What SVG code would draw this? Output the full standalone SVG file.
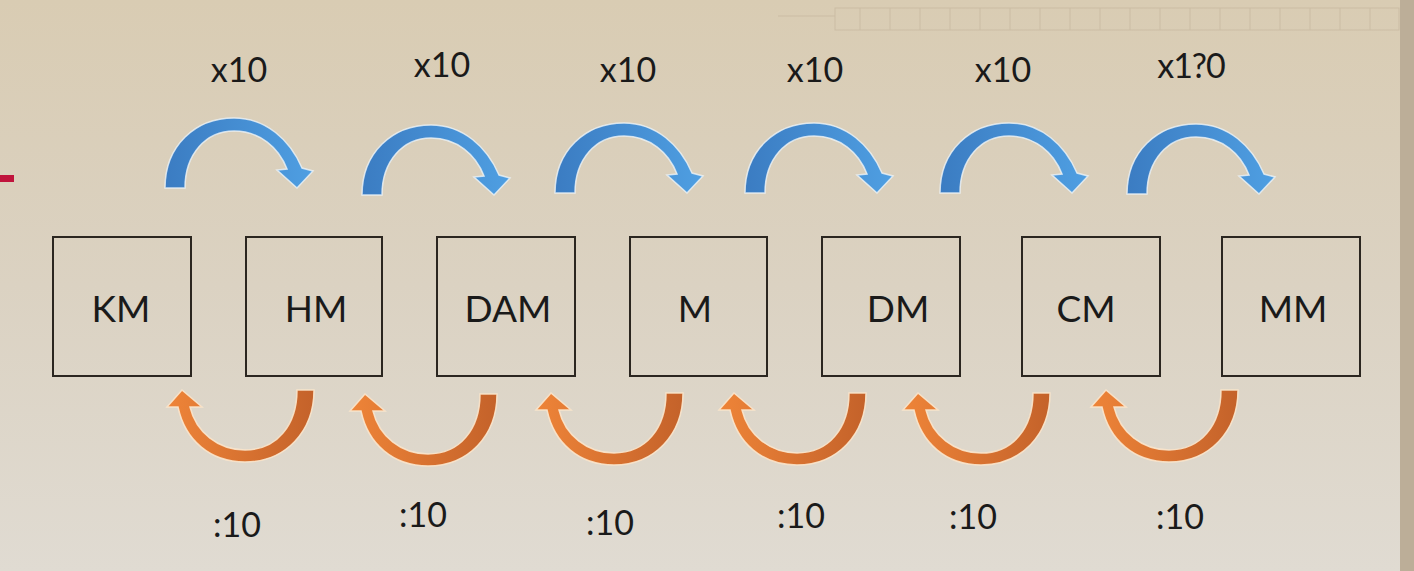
<svg xmlns="http://www.w3.org/2000/svg" width="1414" height="571" viewBox="0 0 1414 571">
  <style>
    .box { fill: none; stroke: #2b2620; stroke-width: 2; }
    .lbl { font-family: Lato, "Liberation Sans", sans-serif; font-size: 37px; fill: #1a1a1a; text-anchor: middle; }
    .op { font-family: Lato, "Liberation Sans", sans-serif; font-size: 34px; fill: #1a1a1a; text-anchor: middle; }
    .blue { fill: url(#gBlue); stroke: #eef4f8; stroke-width: 1.5; stroke-opacity: 0.8; }
    .orange { fill: url(#gOrange); stroke: #fbe6cc; stroke-width: 1.5; stroke-opacity: 0.9; }
  </style>
  <defs>
    <linearGradient id="gBg" x1="0" y1="0" x2="0" y2="1">
      <stop offset="0" stop-color="#d9ccb3"/>
      <stop offset="0.5" stop-color="#dbd2c2"/>
      <stop offset="1" stop-color="#e0dbd2"/>
    </linearGradient>
    <linearGradient id="gBlue" x1="0" y1="0" x2="1" y2="0">
      <stop offset="0" stop-color="#3b7cc2"/>
      <stop offset="1" stop-color="#4f9fe2"/>
    </linearGradient>
    <linearGradient id="gOrange" x1="0" y1="0" x2="1" y2="0">
      <stop offset="0" stop-color="#ee8438"/>
      <stop offset="1" stop-color="#c4622a"/>
    </linearGradient>
    <path id="arcUp" d="M165,188 C165,146 195,118 234,118 C266,118 290,140 302,168 L313,171 L297,188 L277,170 L287,169 C279,148 260,131 234,131 C206,131 185,154 185,188 Z"/>
    <path id="arcDown" d="M314,390 C314,432 285,462 245,462 C210,462 185,440 178,407 L167,407 L182,390 L202,407 L190,407 C196,432 218,450 245,450 C277,450 297,425 297,390 Z"/>
  </defs>

  <!-- background -->
  <rect x="0" y="0" width="1414" height="571" fill="url(#gBg)"/>
  <rect x="1400" y="0" width="14" height="571" fill="#bcae98"/>
  <g opacity="0.18" fill="none" stroke="#8f7d60" stroke-width="1">
    <line x1="778" y1="16" x2="835" y2="16"/>
    <rect x="835" y="8" width="564" height="22"/>
    <line x1="860" y1="8" x2="860" y2="30"/><line x1="890" y1="8" x2="890" y2="30"/>
    <line x1="920" y1="8" x2="920" y2="30"/><line x1="950" y1="8" x2="950" y2="30"/>
    <line x1="980" y1="8" x2="980" y2="30"/><line x1="1010" y1="8" x2="1010" y2="30"/>
    <line x1="1040" y1="8" x2="1040" y2="30"/><line x1="1070" y1="8" x2="1070" y2="30"/>
    <line x1="1100" y1="8" x2="1100" y2="30"/><line x1="1130" y1="8" x2="1130" y2="30"/>
    <line x1="1160" y1="8" x2="1160" y2="30"/><line x1="1190" y1="8" x2="1190" y2="30"/>
    <line x1="1220" y1="8" x2="1220" y2="30"/><line x1="1250" y1="8" x2="1250" y2="30"/>
    <line x1="1280" y1="8" x2="1280" y2="30"/><line x1="1310" y1="8" x2="1310" y2="30"/>
    <line x1="1340" y1="8" x2="1340" y2="30"/><line x1="1370" y1="8" x2="1370" y2="30"/>
  </g>
  <rect x="0" y="175" width="14" height="7" fill="#c0143c"/>

  <!-- connectors -->
  <g id="connectors">
    <use href="#arcUp" class="blue"/>
    <use href="#arcUp" class="blue" transform="translate(197,7)"/>
    <use href="#arcUp" class="blue" transform="translate(390,5)"/>
    <use href="#arcUp" class="blue" transform="translate(580,5)"/>
    <use href="#arcUp" class="blue" transform="translate(775,5)"/>
    <use href="#arcUp" class="blue" transform="translate(962,6)"/>
    <use href="#arcDown" class="orange"/>
    <use href="#arcDown" class="orange" transform="translate(183,4)"/>
    <use href="#arcDown" class="orange" transform="translate(369,3)"/>
    <use href="#arcDown" class="orange" transform="translate(552,3)"/>
    <use href="#arcDown" class="orange" transform="translate(736,3)"/>
    <use href="#arcDown" class="orange" transform="translate(924,0)"/>
    <text class="op" x="239" y="82">x10</text>
    <text class="op" x="442" y="77">x10</text>
    <text class="op" x="628" y="82">x10</text>
    <text class="op" x="815" y="82">x10</text>
    <text class="op" x="1003" y="82">x10</text>
    <text class="op" x="1191" y="78" letter-spacing="-1">x1?0</text>
    <text class="op" x="237" y="537">:10</text>
    <text class="op" x="423" y="527">:10</text>
    <text class="op" x="610" y="535">:10</text>
    <text class="op" x="801" y="528">:10</text>
    <text class="op" x="973" y="529">:10</text>
    <text class="op" x="1180" y="529">:10</text>
  </g>

  <!-- nodes -->
  <g id="node-km"><rect class="box" x="53" y="237" width="138" height="139"/><text class="lbl" x="121" y="322">KM</text></g>
  <g id="node-hm"><rect class="box" x="246" y="237" width="136" height="139"/><text class="lbl" x="316" y="322">HM</text></g>
  <g id="node-dam"><rect class="box" x="437" y="237" width="138" height="139"/><text class="lbl" x="508" y="322">DAM</text></g>
  <g id="node-m"><rect class="box" x="630" y="237" width="137" height="139"/><text class="lbl" x="695" y="322">M</text></g>
  <g id="node-dm"><rect class="box" x="822" y="237" width="138" height="139"/><text class="lbl" x="898" y="322">DM</text></g>
  <g id="node-cm"><rect class="box" x="1022" y="237" width="138" height="139"/><text class="lbl" x="1086" y="322">CM</text></g>
  <g id="node-mm"><rect class="box" x="1222" y="237" width="138" height="139"/><text class="lbl" x="1293" y="322">MM</text></g>
</svg>
